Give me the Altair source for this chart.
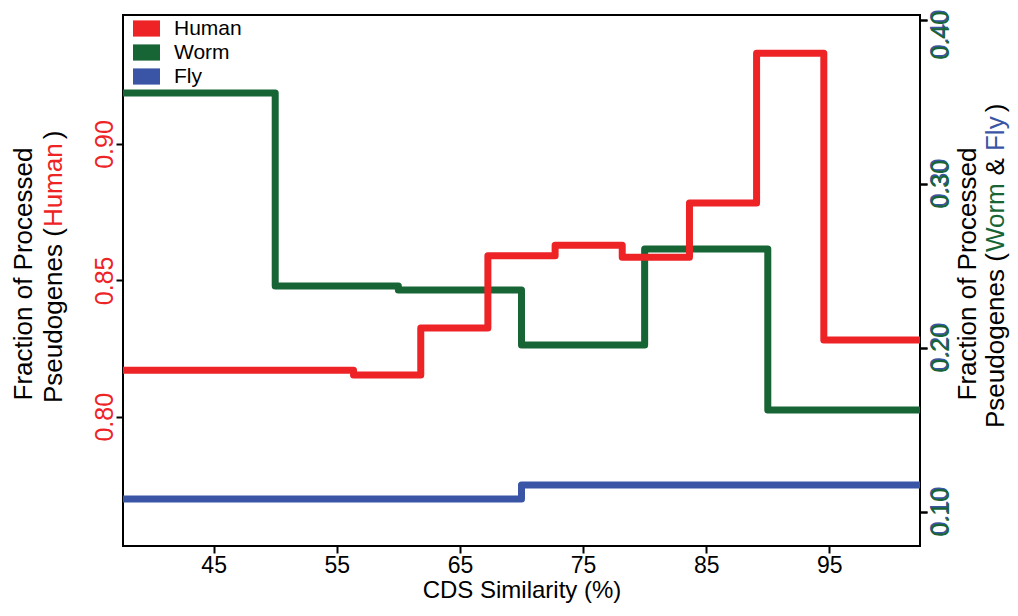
import altair as alt
import pandas as pd

# ---------------- data ----------------
series = ["Human", "Worm", "Fly"]
human_x = [30, 56.36, 61.82, 67.27, 72.73, 78.18, 83.64, 89.09, 94.55, 110]
human_y = [0.817, 0.8153, 0.8325, 0.859, 0.8629, 0.8585, 0.8784, 0.9333, 0.8281, 0.8281]
worm_x = [30, 50, 60, 70, 80, 90, 110]
worm_y = [0.3555, 0.2378, 0.2354, 0.2018, 0.2604, 0.1622, 0.1622]
fly_x = [30, 70, 110]
fly_y = [0.108, 0.1165, 0.1165]
x_ticks = [45, 55, 65, 75, 85, 95]
human_ticks = [0.80, 0.85, 0.90]
wf_ticks = [0.10, 0.20, 0.30, 0.40]

# ---------------- styles ----------------
RED = "#EE2326"
GREEN = "#176435"
BLUE = "#3A55A5"
FONT = "Liberation Sans"
W, H = 797, 531
X_DOM = [37.64, 102.36]
HUMAN_DOM = [0.7526, 0.9473]
WF_DOM = [0.0793, 0.403]
TICK_FS = 25

df_h = pd.DataFrame({"x": human_x, "y": human_y, "series": "Human"})
df_w = pd.DataFrame({"x": worm_x, "y": worm_y, "series": "Worm"})
df_f = pd.DataFrame({"x": fly_x, "y": fly_y, "series": "Fly"})
df_leg = pd.DataFrame({"series": series})

x_enc = alt.X(
    "x:Q",
    scale=alt.Scale(domain=X_DOM, nice=False, zero=False),
    axis=alt.Axis(values=x_ticks, title="CDS Similarity (%)", labelFontSize=23,
                  labelPadding=1, titleFontSize=24, titlePadding=1,
                  titleFontWeight="normal", labelColor="black", titleColor="black"),
)

line_kw = dict(interpolate="step-after", strokeWidth=7, strokeCap="round",
               strokeJoin="round", clip=True)


def wf_axis(color, pad, offset):
    # the top label is nudged down so that it stays inside the page
    return alt.Axis(orient="right", values=wf_ticks, format=".2f", title=None,
                    labelAngle=270, labelAlign="center", labelBaseline="top",
                    labelColor=color, labelFontSize=TICK_FS, labelPadding=pad,
                    labelOffset={"condition": {"test": "datum.value > 0.39",
                                               "value": offset + 15},
                                 "value": offset})


fly = alt.Chart(df_f).mark_line(color=BLUE, **line_kw).encode(
    x=x_enc,
    y=alt.Y("y:Q", scale=alt.Scale(domain=WF_DOM, nice=False, zero=False),
            axis=wf_axis(BLUE, 0.5, -1.5)),
)
worm = alt.Chart(df_w).mark_line(color=GREEN, **line_kw).encode(
    x=x_enc,
    y=alt.Y("y:Q", scale=alt.Scale(domain=WF_DOM, nice=False, zero=False),
            axis=wf_axis(GREEN, 1.5, 0)),
)
human = alt.Chart(df_h).mark_line(color=RED, **line_kw).encode(
    x=x_enc,
    y=alt.Y("y:Q", scale=alt.Scale(domain=HUMAN_DOM, nice=False, zero=False),
            axis=alt.Axis(orient="left", values=human_ticks, format=".2f", title=None,
                          labelAngle=270, labelAlign="center", labelBaseline="alphabetic",
                          labelColor=RED, labelFontSize=TICK_FS, labelPadding=4)),
)

legend_layer = alt.Chart(df_leg).mark_square(opacity=0).encode(
    fill=alt.Fill("series:N", scale=alt.Scale(domain=series, range=[RED, GREEN, BLUE]),
                  sort=series,
                  legend=alt.Legend(title=None, orient="none", legendX=10, legendY=0,
                                    symbolType="M-1,-0.6H1V0.6H-1Z", symbolSize=729,
                                    symbolOpacity=1, symbolStrokeWidth=0,
                                    labelFontSize=21, labelFont=FONT, labelColor="black",
                                    labelOffset=14, rowPadding=-2.5, padding=0)),
)

# ---------------- axis titles (multi-coloured, rotated text) ----------------
ARIAL = {"P": .667, "s": .5, "e": .556, "u": .556, "d": .556, "o": .556, "g": .556,
         "n": .556, " ": .278, "(": .333, ")": .333, "H": .722, "m": .833, "a": .556,
         "W": .944, "r": .333, "&": .667, "F": .611, "l": .222, "y": .5}
TFS = 26
SPACE = ARIAL[" "] * TFS


def twidth(s):
    return sum(ARIAL.get(c, .556) for c in s) * TFS


def txt(s, px, py, color="black", align="left"):
    return alt.Chart(pd.DataFrame({"t": [s]})).mark_text(
        angle=270, align=align, baseline="alphabetic", fontSize=TFS, font=FONT,
        color=color).encode(x=alt.value(px), y=alt.value(py), text="t:N")


def pieces(parts, px, py_start):
    # parts: (text, colour, gap after)
    layers = []
    y = py_start
    for s, c, gap in parts:
        layers.append(txt(s, px, y, c))
        y -= twidth(s) + gap
    return layers


titles = [txt("Fraction of Processed", -91, 259, align="center")]
titles += pieces([("Pseudogenes (", "black", 1), ("Human", RED, 4), (")", "black", 0)],
                 -61, 388)
titles += [txt("Fraction of Processed", 853, 259, align="center")]
titles += pieces([("Pseudogenes (", "black", 1), ("Worm", GREEN, SPACE),
                  ("&", "black", SPACE), ("Fly", BLUE, 4), (")", "black", 0)],
                 881, 413)

chart = alt.layer(fly, worm, human, legend_layer, *titles).resolve_scale(
    y="independent"
).properties(
    width=W, height=H,
    autosize=alt.AutoSizeParams(type="none"),
    padding={"left": 115, "top": 7, "right": 90, "bottom": 58},
).configure_view(
    stroke="black", strokeWidth=2
).configure_axis(
    grid=False, domain=False, tickColor="black", tickWidth=2, tickSize=7,
    labelFont=FONT, titleFont=FONT,
)

chart.save("out.html", embed_options={"renderer": "svg", "actions": False})
